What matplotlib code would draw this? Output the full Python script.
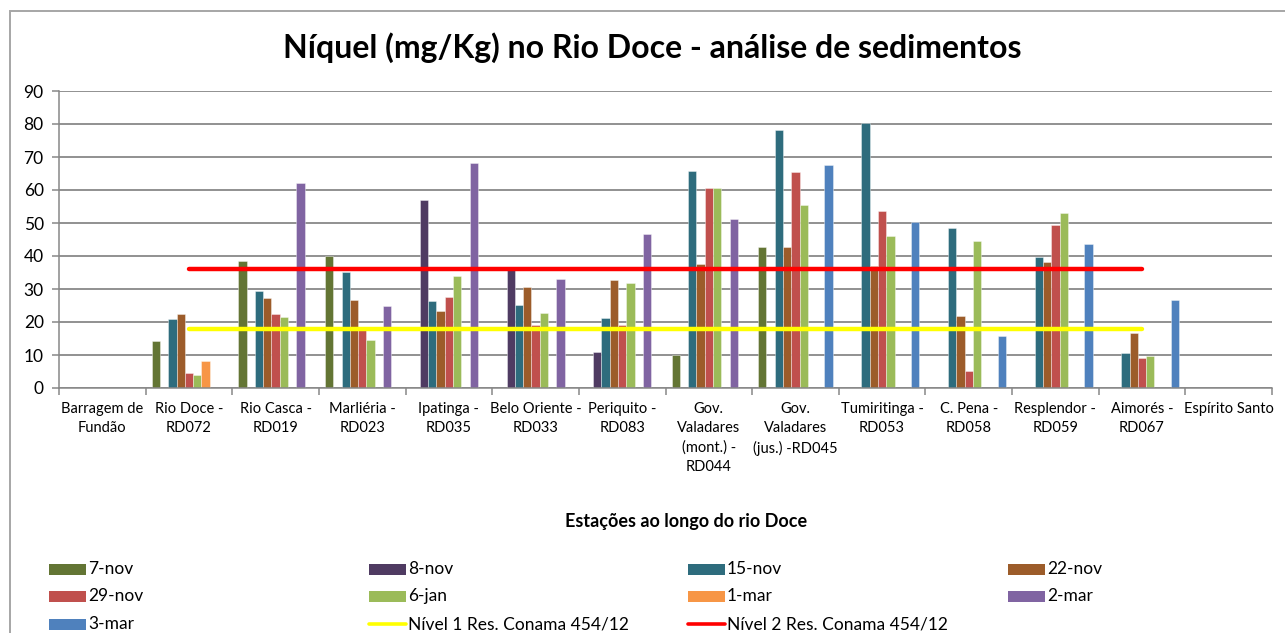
import numpy as np
import matplotlib
matplotlib.use("Agg")
import matplotlib.pyplot as plt
from matplotlib.patches import Rectangle
from matplotlib.lines import Line2D

plt.rcParams['font.family'] = ['Lato', 'DejaVu Sans']

nan = np.nan

estacoes = [
    "Barragem de\nFundão", "Rio Doce -\nRD072", "Rio Casca -\nRD019",
    "Marliéria -\nRD023", "Ipatinga -\nRD035", "Belo Oriente -\nRD033",
    "Periquito -\nRD083", "Gov.\nValadares\n(mont.) -\nRD044",
    "Gov.\nValadares\n(jus.) -RD045", "Tumiritinga -\nRD053",
    "C. Pena -\nRD058", "Resplendor -\nRD059", "Aimorés -\nRD067",
    "Espírito Santo",
]

campanhas = ["7-nov", "8-nov", "15-nov", "22-nov", "29-nov",
             "6-jan", "1-mar", "2-mar", "3-mar"]

v_7nov  = [nan, 14.2, 38.6, 40.0, nan, nan, nan, 10.0, 42.6, nan, nan, nan, nan, nan]
v_8nov  = [nan, nan, nan, nan, 56.9, 36.0, 10.8, nan, nan, nan, nan, nan, nan, nan]
v_15nov = [nan, 20.9, 29.4, 35.3, 26.4, 25.2, 21.2, 65.8, 78.1, 80.4, 48.4, 39.7, 10.7, nan]
v_22nov = [nan, 22.4, 27.2, 26.6, 23.4, 30.6, 32.7, 37.7, 42.8, 37.1, 21.9, 38.1, 16.7, nan]
v_29nov = [nan, 4.5, 22.5, 17.5, 27.5, 19.1, 19.1, 60.7, 65.5, 53.7, 5.2, 49.4, 9.2, nan]
v_6jan  = [nan, 3.9, 21.6, 14.4, 33.8, 22.8, 31.7, 60.7, 55.5, 46.2, 44.4, 53.0, 9.6, nan]
v_1mar  = [nan, 8.3, nan, nan, nan, nan, nan, nan, nan, nan, nan, nan, nan, nan]
v_2mar  = [nan, nan, 62.2, 24.8, 68.2, 32.9, 46.8, 51.1, nan, nan, nan, nan, nan, nan]
v_3mar  = [nan, nan, nan, nan, nan, nan, nan, nan, 67.5, 50.3, 15.9, 43.6, 26.6, nan]

nivel1 = [nan, 18, 18, 18, 18, 18, 18, 18, 18, 18, 18, 18, 18, nan]
nivel2 = [nan, 36, 36, 36, 36, 36, 36, 36, 36, 36, 36, 36, 36, nan]
nome_nivel1 = "Nível 1 Res. Conama 454/12"
nome_nivel2 = "Nível 2 Res. Conama 454/12"

series = [v_7nov, v_8nov, v_15nov, v_22nov, v_29nov, v_6jan, v_1mar, v_2mar, v_3mar]
cores = ["#637534", "#4F3B62", "#2E6C7D", "#9C5C2A", "#C0504D",
         "#9BBB59", "#F79646", "#8064A2", "#4F81BD"]
cor_n1 = "#FFFF00"
cor_n2 = "#FF0000"

W, H = 1285, 633
fig = plt.figure(figsize=(W / 100, H / 100), dpi=100)
ax = fig.add_axes([59 / W, 1 - 388 / H, (1272 - 59) / W, (388 - 91) / H])

x = np.arange(len(estacoes))
n = len(series)
bw = 0.86 / n
for k, (vals, cor) in enumerate(zip(series, cores)):
    ax.bar(x + (k - (n - 1) / 2) * bw, vals, width=bw, color=cor,
           edgecolor=(1, 1, 1, 0.45), linewidth=0.6, zorder=2)

ax.plot(x, nivel1, color=cor_n1, lw=3.2, solid_capstyle='round', zorder=3)
ax.plot(x, nivel2, color=cor_n2, lw=3.2, solid_capstyle='round', zorder=3)

grid_c = "#888888"
ax.set_xlim(-0.5, len(estacoes) - 0.5)
ax.set_ylim(0, 90)
ax.set_yticks(np.arange(0, 91, 10))
ax.yaxis.grid(True, color=grid_c, lw=1.3, zorder=0)
ax.set_axisbelow(True)
for s in ("top", "right"):
    ax.spines[s].set_visible(False)
for s in ("left", "bottom"):
    ax.spines[s].set_color(grid_c)
    ax.spines[s].set_linewidth(1.1)

ax.set_xticks(x)
ax.set_xticklabels(estacoes, fontsize=10.5, linespacing=1.48, va='top')
ax.set_xticks(np.arange(-0.5, len(estacoes)), minor=True)
ax.tick_params(axis='x', which='major', length=0, pad=10)
ax.tick_params(axis='x', which='minor', length=5, color=grid_c, width=1.1)
ax.tick_params(axis='y', length=5, color=grid_c, width=1.1, labelsize=12.5, pad=6)

fig.text(652 / W, 1 - 48 / H, "Níquel (mg/Kg) no Rio Doce - análise de sedimentos",
         ha='center', va='center', fontsize=23, fontweight='bold')
fig.text(686 / W, 1 - 521 / H, "Estações ao longo do rio Doce",
         ha='center', va='center', fontsize=13, fontweight='bold')

# outer chart frame
fig.add_artist(Rectangle((10 / W, -0.2), 1.2, 1.2 - 11 / H, transform=fig.transFigure,
                         fill=False, edgecolor="#A6A6A6", lw=1.4))

# legend laid out in rows of four, Excel style
itens = [(c, cor, 'bar') for c, cor in zip(campanhas, cores)]
itens += [(nome_nivel1, cor_n1, 'line'), (nome_nivel2, cor_n2, 'line')]
col_x = [49, 369, 688, 1008]
row_y = [569, 596, 624]
sw_w, sw_h = 37, 11
for i, (rot, cor, tipo) in enumerate(itens):
    cx = col_x[i % 4]
    cy = row_y[i // 4]
    if tipo == 'bar':
        fig.add_artist(Rectangle((cx / W, 1 - (cy + sw_h / 2) / H), sw_w / W, sw_h / H,
                                 transform=fig.transFigure, facecolor=cor, edgecolor='none'))
    else:
        fig.add_artist(Line2D([cx / W, (cx + sw_w) / W], [1 - cy / H, 1 - cy / H],
                              transform=fig.transFigure, color=cor, lw=2.6,
                              solid_capstyle='round'))
    fig.text((cx + sw_w + 2) / W, 1 - cy / H, rot, ha='left', va='center', fontsize=12.5)

fig.savefig("out.png", dpi=100, facecolor="white")
